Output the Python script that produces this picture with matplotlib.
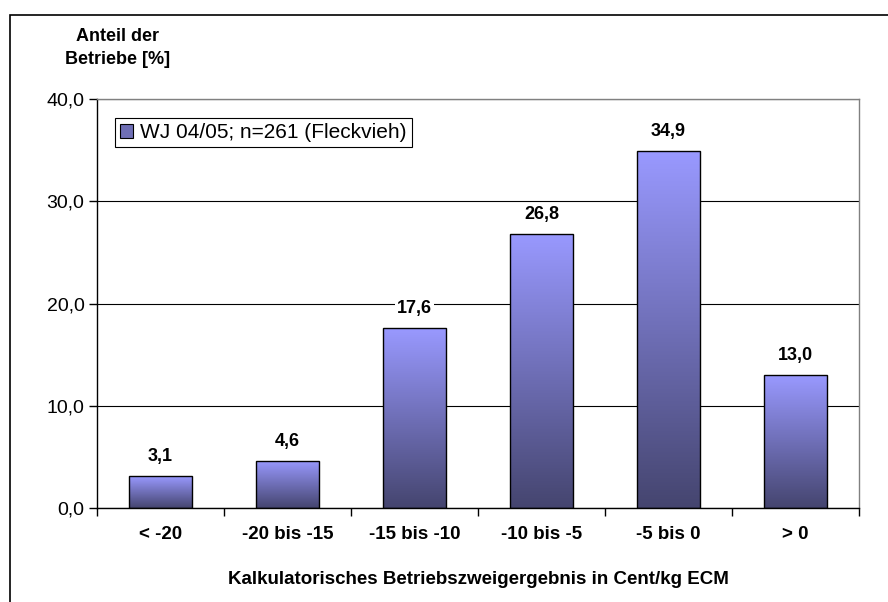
import numpy as np
import matplotlib.pyplot as plt
import matplotlib.patches as mpatches
from matplotlib.colors import LinearSegmentedColormap
from matplotlib.ticker import FuncFormatter

plt.rcParams["font.family"] = ["Liberation Sans", "DejaVu Sans"]

# Data
categories = ["< -20", "-20 bis -15", "-15 bis -10", "-10 bis -5", "-5 bis 0", "> 0"]
shares = [3.1, 4.6, 17.6, 26.8, 34.9, 13.0]
series_label = "WJ 04/05; n=261 (Fleckvieh)"

light = "#9999FF"
dark = "#45456F"
grad_cmap = LinearSegmentedColormap.from_list("bar_grad", [dark, light])

fig = plt.figure(figsize=(8.88, 6.02), dpi=100)
ax = fig.add_axes([0.1092, 0.1561, 0.8581, 0.6794])

x = np.arange(len(categories))
bars = ax.bar(x, shares, width=0.5, facecolor="none", edgecolor="black",
              linewidth=1.0, zorder=3)

# vertical gradient in every bar (light on top, dark at bottom)
grad = np.linspace(0, 1, 256).reshape(-1, 1)
for b in bars:
    x0, w, h = b.get_x(), b.get_width(), b.get_height()
    im = ax.imshow(grad, cmap=grad_cmap, origin="lower", aspect="auto",
                   extent=[x0, x0 + w, 0, h], zorder=2, interpolation="bilinear")
    im.set_clip_path(b)
ax.set_xlim(-0.5, len(categories) - 0.5)
ax.set_ylim(0, 40)

# data labels
for xi, v in zip(x, shares):
    ax.annotate(f"{v:.1f}".replace(".", ","), (xi, v), xytext=(0, 8),
                textcoords="offset points", ha="center", va="bottom",
                fontsize=13, fontweight="bold", zorder=4,
                bbox=dict(facecolor="white", edgecolor="none", pad=1.5))

# grid + axes
ax.set_yticks([0, 10, 20, 30, 40])
ax.yaxis.set_major_formatter(FuncFormatter(lambda v, p: f"{v:.1f}".replace(".", ",")))
ax.yaxis.grid(True, color="black", linewidth=0.8, zorder=1)
ax.set_axisbelow(True)

ax.set_xticks(np.arange(-0.5, len(categories)), labels=[""] * (len(categories) + 1))
ax.set_xticks(x, labels=categories, minor=True)
ax.tick_params(axis="x", which="minor", length=0, pad=13, labelsize=13.5)
ax.tick_params(axis="x", which="major", length=6, width=1, direction="out")
ax.tick_params(axis="y", length=6, width=1, direction="out", labelsize=14, pad=3)
for lab in ax.get_xticklabels(minor=True):
    lab.set_fontweight("bold")

ax.spines["top"].set_color("#808080")
ax.spines["right"].set_color("#808080")
for s in ax.spines.values():
    s.set_linewidth(1.0)

ax.set_xlabel("Kalkulatorisches Betriebszweigergebnis in Cent/kg ECM",
              fontsize=13.5, fontweight="bold", labelpad=20)
fig.text(0.132, 0.920, "Anteil der\nBetriebe [%]", ha="center", va="center",
         fontsize=13, fontweight="bold", linespacing=1.5)

# legend
handle = mpatches.Patch(facecolor="#6F6FB5", edgecolor="black", linewidth=0.8)
leg = ax.legend([handle], [series_label], loc="upper left",
                bbox_to_anchor=(0.0236, 0.9535), fancybox=False, framealpha=1,
                edgecolor="black", fontsize=15, handlelength=0.6, handleheight=0.6,
                handletextpad=0.35, borderpad=0.25, borderaxespad=0)
leg.get_frame().set_linewidth(0.8)

# outer chart frame (cut off at right and bottom)
fig.patches.append(mpatches.Rectangle((10 / 888, -0.1), 1.2, 0.1 + 1 - 15 / 602,
                                      transform=fig.transFigure, fill=False,
                                      edgecolor="black", linewidth=1.2))

fig.savefig("out.png", dpi=100)
